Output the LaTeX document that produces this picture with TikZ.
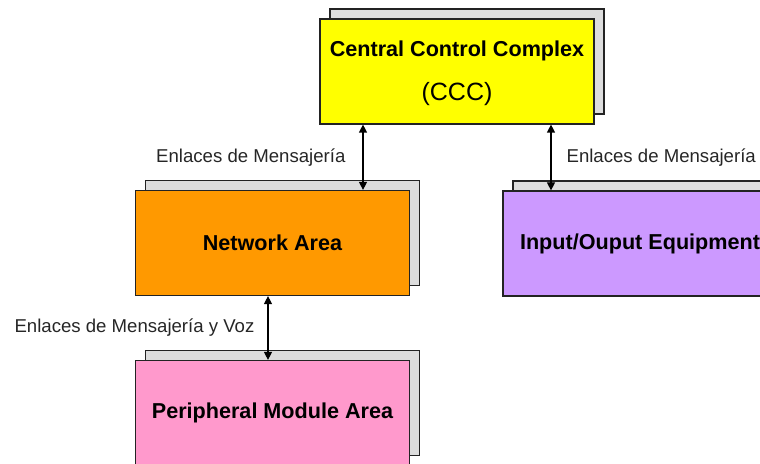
\documentclass[tikz,border=0pt]{standalone}
\usepackage{fontspec}
\setmainfont{Liberation Sans}
\usepackage{tikz}
\usetikzlibrary{arrows.meta, positioning, shadows}
\definecolor{cccyellow}{RGB}{255,255,0}
\definecolor{netorange}{RGB}{255,153,0}
\definecolor{iopurple}{RGB}{204,153,255}
\definecolor{pmapink}{RGB}{255,153,204}
\definecolor{shadowgray}{RGB}{221,221,221}
\definecolor{edgedark}{RGB}{35,35,35}
\tikzset{
  areabox/.style={rectangle, draw=edgedark, line width=0.6pt,
    minimum width=137pt, minimum height=52.5pt, align=center,
    font=\fontsize{10.8}{13}\selectfont\bfseries,
    copy shadow={shadow xshift=5pt, shadow yshift=5pt,
      fill=shadowgray, draw=edgedark, line width=0.6pt}},
  link/.style={{Triangle[length=4pt,width=4pt]}-{Triangle[length=4pt,width=4pt]},
    line width=0.6pt, color=black},
  linklabel/.style={font=\fontsize{9.3}{11}\selectfont, color=black!85, inner sep=0pt}
}

\begin{document}
\begin{tikzpicture}[x=0.5pt, y=-0.5pt]
  \useasboundingbox (0,0) rectangle (760,464);
  \clip (0,0) rectangle (760,464);
  % areas
  \node[areabox, fill=cccyellow] (ccc) at (457,71.5)
    {\rule{0pt}{10pt}Central Control Complex\\[9pt]\fontsize{12.5}{15}\selectfont\mdseries (CCC)};
  \node[areabox, fill=netorange] (net) at (272.5,243) {Network Area};
  \node[areabox, fill=iopurple] (io) at (640,243.5) {Input/Ouput Equipment};
  \node[areabox, fill=pmapink] (pma) at (272.5,413) {\rule{0pt}{4pt}Peripheral Module Area\rule[-2pt]{0pt}{0pt}};
  % links
  \draw[link] ([xshift=-47pt]ccc.south) -- ([xshift=-47pt]ccc.south |- net.north)
    node[midway, linklabel, left=8.5pt] {Enlaces de Mensajería};
  \draw[link] ([xshift=47pt]ccc.south) -- ([xshift=47pt]ccc.south |- io.north)
    node[midway, linklabel, right=7.5pt] {Enlaces de Mensajería};
  \draw[link] ([xshift=-2.25pt]net.south) -- ([xshift=-2.25pt]net.south |- pma.north)
    node[midway, linklabel, left=6.5pt] {Enlaces de Mensajería y Voz};
\end{tikzpicture}
\end{document}
